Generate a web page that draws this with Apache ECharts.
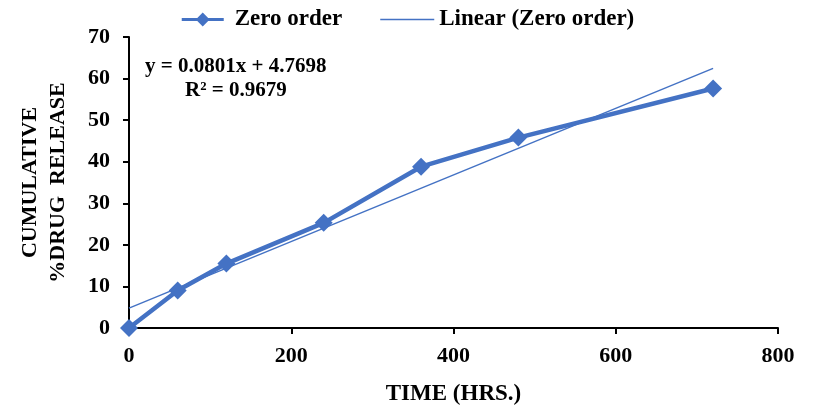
<!DOCTYPE html>
<html>
<head>
<meta charset="utf-8">
<script src="https://cdn.jsdelivr.net/npm/echarts@6/dist/echarts.min.js"></script>
<style>html,body{margin:0;padding:0;background:#fff}#c{width:816px;height:408px}</style>
</head>
<body>
<div id="c"></div>
<script>
var timeHrs = [0, 60, 120, 240, 360, 480, 720];
var zeroOrder = [0, 9.0, 15.5, 25.3, 38.8, 45.8, 57.6];
var trendX = [0, 720];
var trendY = [4.77, 62.44];
var xTicks = [0, 200, 400, 600, 800];
var yTicks = [0, 10, 20, 30, 40, 50, 60, 70];
var eqText = 'y = 0.0801x + 4.7698';
var r2Text = 'R² = 0.9679';

var FONT = '"Liberation Serif", "Times New Roman", serif';
var BLUE = '#4472C4';
var chart = echarts.init(document.getElementById('c'), null, {renderer: 'canvas'});
chart.setOption({
  animation: false,
  textStyle: {fontFamily: FONT, fontWeight: 700},
  legend: {
    top: 3, left: 'center', itemGap: 38, itemWidth: 54, itemHeight: 14,
    textStyle: {fontFamily: FONT, fontWeight: 700, fontSize: 23, color: '#000'},
    data: [
      {name: 'Zero order', icon: 'path://M0,5 L20,5 L27,-2 L34,5 L54,5 L54,9 L34,9 L27,16 L20,9 L0,9 Z'},
      {name: 'Linear (Zero order)', icon: 'path://M0,6.2 L52,6.2 L52,7.8 L0,7.8 Z'}
    ]
  },
  grid: {left: 129, right: 38, top: 37, bottom: 80, containLabel: false, outerBoundsMode: 'none'},
  xAxis: {
    type: 'value', min: xTicks[0], max: xTicks[xTicks.length - 1], interval: 200,
    name: 'TIME (HRS.)', nameLocation: 'middle', nameGap: 55,
    nameTextStyle: {fontFamily: FONT, fontWeight: 700, fontSize: 23, color: '#000'},
    axisLine: {lineStyle: {color: '#000', width: 2}},
    axisTick: {show: true, length: 6, lineStyle: {color: '#000', width: 2}},
    axisLabel: {fontFamily: FONT, fontWeight: 700, fontSize: 22, color: '#000', margin: 17},
    splitLine: {show: false}
  },
  yAxis: {
    type: 'value', min: yTicks[0], max: yTicks[yTicks.length - 1], interval: 10,
    name: 'CUMULATIVE\n%DRUG  RELEASE', nameLocation: 'middle', nameGap: 57, nameRotate: 90,
    nameTextStyle: {fontFamily: FONT, fontWeight: 700, fontSize: 22, color: '#000', lineHeight: 28},
    axisLine: {show: true, lineStyle: {color: '#000', width: 2}},
    axisTick: {show: true, length: 6, lineStyle: {color: '#000', width: 2}},
    axisLabel: {fontFamily: FONT, fontWeight: 700, fontSize: 22, color: '#000', margin: 19},
    splitLine: {show: false}
  },
  series: [
    {
      name: 'Linear (Zero order)', type: 'line', z: 3,
      data: trendX.map(function (x, i) { return [x, trendY[i]]; }),
      symbol: 'none', lineStyle: {color: BLUE, width: 1.5}, itemStyle: {color: BLUE}
    },
    {
      name: 'Zero order', type: 'line', z: 4,
      data: timeHrs.map(function (x, i) { return [x, zeroOrder[i]]; }),
      symbol: 'diamond', symbolSize: 18, showSymbol: true,
      lineStyle: {color: BLUE, width: 4.5}, itemStyle: {color: BLUE}
    }
  ],
  graphic: [
    {type: 'text', left: 145, top: 56, style: {text: eqText, font: 'bold 21px ' + FONT, fill: '#000'}},
    {type: 'text', left: 185, top: 80, style: {text: r2Text, font: 'bold 21px ' + FONT, fill: '#000'}}
  ]
});
</script>
</body>
</html>
